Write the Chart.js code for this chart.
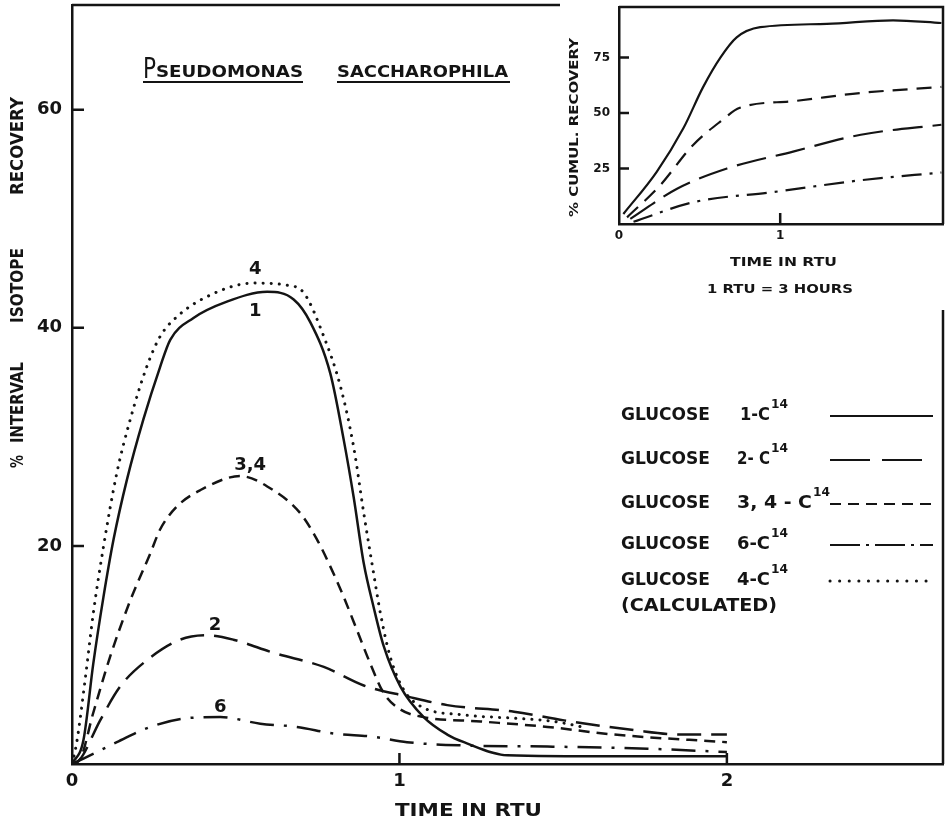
<!DOCTYPE html>
<html>
<head>
<meta charset="utf-8">
<script src="https://cdn.jsdelivr.net/npm/chart.js@4.4.1/dist/chart.umd.min.js"></script>
<style>
  body { margin: 0; background: #fff; }
  #wrap { position: relative; width: 945px; height: 823px; }
  #main { position: absolute; left: 0; top: 0; }
  #inset { position: absolute; left: 560px; top: 0; background: #fff; }
</style>
</head>
<body>
<div id="wrap">
  <canvas id="main" width="945" height="823"></canvas>
  <canvas id="inset" width="385" height="310"></canvas>
</div>
<script>
// ---- main chart: % interval isotope recovery vs time (RTU)
const xTicks = [0, 1, 2];
const yTicks = [20, 40, 60];

const g1X = [0, 0.035, 0.065, 0.096, 0.127, 0.168, 0.218, 0.269, 0.30, 0.371, 0.473, 0.596, 0.677, 0.728, 0.789, 0.83, 0.86, 0.891, 0.921, 0.952, 1.003, 1.074, 1.146, 1.197, 1.33, 1.655, 2.0];
const g1Y = [0, 2.2, 9.2, 15.3, 20.6, 26.1, 31.6, 36.4, 38.9, 40.9, 42.4, 43.3, 42.6, 40.5, 35.8, 29.7, 24.5, 18.4, 14.4, 10.8, 7.1, 4.3, 2.7, 2.0, 0.8, 0.7, 0.7];

const g2X = [0, 0.024, 0.086, 0.147, 0.228, 0.33, 0.412, 0.493, 0.615, 0.769, 0.891, 1.023, 1.146, 1.35, 1.503, 1.717, 1.86, 2.0];
const g2Y = [0, 0.4, 4.0, 7.1, 9.5, 11.4, 11.8, 11.4, 10.2, 8.9, 7.2, 6.2, 5.4, 4.8, 4.0, 3.1, 2.7, 2.7];

const g34X = [0, 0.024, 0.065, 0.116, 0.178, 0.239, 0.269, 0.32, 0.391, 0.514, 0.615, 0.697, 0.748, 0.789, 0.83, 0.87, 0.911, 0.952, 1.003, 1.074, 1.248, 1.452, 1.655, 2.0];
const g34Y = [0, 0.4, 4.7, 9.8, 15.0, 19.3, 21.5, 23.6, 25.1, 26.4, 25.1, 23.0, 20.6, 18.1, 15.3, 12.3, 9.2, 6.5, 5.0, 4.3, 3.9, 3.4, 2.7, 2.0];

const g6X = [0, 0.035, 0.137, 0.239, 0.35, 0.453, 0.575, 0.687, 0.799, 0.921, 1.023, 1.197, 1.452, 1.758, 2.0];
const g6Y = [0, 0.5, 2.0, 3.4, 4.2, 4.3, 3.7, 3.4, 2.8, 2.5, 2.0, 1.7, 1.6, 1.4, 1.1];

// glucose 4-C14 (calculated)
const g4X = [0, 0.014, 0.04, 0.065, 0.096, 0.137, 0.178, 0.228, 0.269, 0.32, 0.422, 0.554, 0.657, 0.708, 0.769, 0.82, 0.86, 0.891, 0.921, 0.942, 0.972, 1.013, 1.064, 1.197, 1.35, 1.472, 1.574];
const g4Y = [0, 1.9, 7.7, 13.8, 19.9, 26.7, 31.6, 36.4, 39.2, 41.0, 43.0, 44.1, 43.9, 43.2, 39.2, 34.6, 29.1, 23.0, 17.5, 13.8, 9.8, 6.8, 5.3, 4.5, 4.2, 3.9, 3.3];

// curve numbers written next to the peaks
const tagText = ['4', '1', '3,4', '2', '6'];
const tagX = [0.56, 0.56, 0.544, 0.437, 0.453];
const tagY = [45.4, 41.5, 27.4, 12.75, 5.2];

const legendIsotopes = ['1-C', '2- C', '3, 4 - C', '6-C', '4-C'];

// ---- inset: % cumulative recovery
const insetXTicks = [0, 1];
const insetYTicks = [25, 50, 75];

const c1X = [0.027, 0.234, 0.40, 0.52, 0.63, 0.73, 0.876, 1.29, 1.70, 2.0];
const c1Y = [4.5, 23.5, 43.2, 61.4, 75, 84, 88.6, 90.1, 91.7, 90.5];
const c34X = [0.05, 0.255, 0.46, 0.63, 0.75, 1.08, 1.5, 2.0];
const c34Y = [3, 17.4, 35.6, 46.2, 52.3, 55.3, 59, 61.7];
const c2X = [0.07, 0.36, 0.67, 1.08, 1.5, 2.0];
const c2Y = [2.3, 15.9, 25, 32.6, 40.2, 44.7];
const c6X = [0.09, 0.46, 0.96, 1.5, 2.0];
const c6Y = [1, 9.8, 14.4, 19.7, 23.2];

const INK = '#141414';
const FONT = '"DejaVu Sans", sans-serif';

function pts(xs, ys) {
  return xs.map((x, i) => ({ x: x, y: ys[i] }));
}

// draw text squeezed/stretched to a given width
function fitText(ctx, str, x, y, w, size, weight, rot, base) {
  ctx.save();
  ctx.font = (weight || 'normal') + ' ' + size + 'px ' + FONT;
  const m = ctx.measureText(str).width;
  ctx.translate(x, y);
  if (rot) ctx.rotate(-Math.PI / 2);
  ctx.scale(w / m, 1);
  ctx.fillStyle = INK;
  ctx.textAlign = 'left';
  ctx.textBaseline = base || 'middle';
  ctx.fillText(str, 0, 0);
  ctx.restore();
}

function line(label, xs, ys, dash, width, cap) {
  return {
    label: label,
    data: pts(xs, ys),
    borderColor: INK,
    borderWidth: width || 2.5,
    borderDash: dash,
    borderCapStyle: cap || 'butt',
    pointRadius: 0,
    cubicInterpolationMode: 'monotone',
    fill: false
  };
}

// keep the plot area exactly where the layout padding puts it
function noPadY(s, w) { s.width = w; s.paddingTop = 0; s.paddingBottom = 0; }
function noPadX(s, h) { s.height = h; s.paddingLeft = 0; s.paddingRight = 0; }

const mainDecor = {
  id: 'mainDecor',
  afterDraw(chart) {
    const { ctx, chartArea: a } = chart;
    const x = chart.scales.x, y = chart.scales.y;
    ctx.save();
    ctx.strokeStyle = INK;
    ctx.lineWidth = 2.5;
    ctx.beginPath();
    ctx.moveTo(a.left, a.top);
    ctx.lineTo(a.right, a.top);
    ctx.lineTo(a.right, a.bottom);
    ctx.stroke();

    // inward tick marks
    ctx.beginPath();
    yTicks.forEach(v => {
      const py = y.getPixelForValue(v);
      ctx.moveTo(a.left, py);
      ctx.lineTo(a.left + 12, py);
    });
    xTicks.slice(1).forEach(v => {
      const px = x.getPixelForValue(v);
      ctx.moveTo(px, a.bottom);
      ctx.lineTo(px, a.bottom - 11);
    });
    ctx.stroke();

    // title
    fitText(ctx, 'P', 143, 78, 13, 29, 'normal', false, 'alphabetic');
    fitText(ctx, 'SEUDOMONAS', 156, 77, 147, 16, 'bold', false, 'alphabetic');
    fitText(ctx, 'SACCHAROPHILA', 337, 77, 171, 16, 'bold', false, 'alphabetic');
    ctx.lineWidth = 2.2;
    ctx.beginPath();
    ctx.moveTo(143, 82); ctx.lineTo(303, 82);
    ctx.moveTo(337, 82); ctx.lineTo(510, 82);
    ctx.stroke();

    // axis titles
    fitText(ctx, 'RECOVERY', 18, 195, 98, 18, 'bold', true);
    fitText(ctx, 'ISOTOPE', 18, 323, 75, 18, 'bold', true);
    fitText(ctx, 'INTERVAL', 18, 443, 81, 18, 'bold', true);
    fitText(ctx, '%', 18, 468, 13, 18, 'bold', true);
    fitText(ctx, 'TIME IN RTU', 395, 811, 147, 18, 'bold');

    // curve numbers
    ctx.font = 'bold 18px ' + FONT;
    ctx.fillStyle = INK;
    ctx.textAlign = 'center';
    ctx.textBaseline = 'middle';
    tagText.forEach((t, i) => {
      ctx.fillText(t, x.getPixelForValue(tagX[i]), y.getPixelForValue(tagY[i]));
    });

    // legend
    const rows = [416, 460, 504, 545, 581];
    const isoW = [30, 33, 75, 33, 33];
    const dashes = [[], [40, 12], [11, 7], [30, 6, 3, 6], [0.1, 9.5]];
    rows.forEach((ry, i) => {
      fitText(ctx, 'GLUCOSE', 621, ry, 89, 17, 'bold');
      const ix = i === 0 ? 740 : 737;
      fitText(ctx, legendIsotopes[i], ix, ry, isoW[i], 17, 'bold');
      fitText(ctx, '14', ix + isoW[i] + 1, ry - 11, 17, 13, 'bold');
      ctx.setLineDash(dashes[i]);
      ctx.lineCap = i === 4 ? 'round' : 'butt';
      ctx.lineWidth = i === 4 ? 3 : 2;
      ctx.beginPath();
      ctx.moveTo(830, ry);
      ctx.lineTo(933, ry);
      ctx.stroke();
    });
    ctx.setLineDash([]);
    fitText(ctx, '(CALCULATED)', 621, 607, 156, 17, 'bold');
    ctx.restore();
  }
};

new Chart(document.getElementById('main'), {
  type: 'line',
  data: {
    datasets: [
      line('Glucose 1-C14', g1X, g1Y, []),
      line('Glucose 2-C14', g2X, g2Y, [24, 10]),
      line('Glucose 3,4-C14', g34X, g34Y, [11, 7]),
      line('Glucose 6-C14', g6X, g6Y, [24, 10, 3, 10]),
      line('Glucose 4-C14 (calculated)', g4X, g4Y, [0.1, 8], 3, 'round')
    ]
  },
  options: {
    responsive: false,
    animation: false,
    layout: { padding: { left: 0, right: 2, top: 5, bottom: 0 } },
    plugins: { legend: { display: false }, tooltip: { enabled: false } },
    scales: {
      x: {
        type: 'linear', min: 0, max: 2.66,
        border: { color: INK, width: 2.5 },
        grid: { display: false, drawTicks: false },
        afterBuildTicks: s => { s.ticks = xTicks.map(v => ({ value: v })); },
        afterFit: s => noPadX(s, 59),
        ticks: { color: INK, padding: 7, font: { family: FONT, size: 18, weight: 'bold' } }
      },
      y: {
        type: 'linear', min: 0, max: 69.6,
        border: { color: INK, width: 2.5 },
        grid: { display: false, drawTicks: false },
        afterBuildTicks: s => { s.ticks = yTicks.map(v => ({ value: v })); },
        afterFit: s => noPadY(s, 72),
        ticks: { color: INK, padding: 10, font: { family: FONT, size: 18, weight: 'bold' } }
      }
    }
  },
  plugins: [mainDecor]
});

const insetDecor = {
  id: 'insetDecor',
  afterDraw(chart) {
    const { ctx, chartArea: a } = chart;
    const x = chart.scales.x, y = chart.scales.y;
    ctx.save();
    ctx.strokeStyle = INK;
    ctx.lineWidth = 2.5;
    ctx.beginPath();
    ctx.moveTo(a.left, a.top);
    ctx.lineTo(a.right, a.top);
    ctx.lineTo(a.right, a.bottom);
    ctx.stroke();
    ctx.beginPath();
    insetYTicks.forEach(v => {
      const py = y.getPixelForValue(v);
      ctx.moveTo(a.left, py);
      ctx.lineTo(a.left + 10, py);
    });
    insetXTicks.slice(1).forEach(v => {
      const px = x.getPixelForValue(v);
      ctx.moveTo(px, a.bottom);
      ctx.lineTo(px, a.bottom - 11);
    });
    ctx.stroke();
    fitText(ctx, '% CUMUL. RECOVERY', 15, 217, 179, 13, 'bold', true);
    fitText(ctx, 'TIME IN RTU', 170, 263, 107, 13, 'bold');
    fitText(ctx, '1 RTU = 3 HOURS', 147, 290, 146, 13, 'bold');
    ctx.restore();
  }
};

new Chart(document.getElementById('inset'), {
  type: 'line',
  data: {
    datasets: [
      line('Glucose 1-C14', c1X, c1Y, [], 2.2),
      line('Glucose 3,4-C14', c34X, c34Y, [15, 9], 2.2),
      line('Glucose 2-C14', c2X, c2Y, [30, 10], 2.2),
      line('Glucose 6-C14', c6X, c6Y, [20, 8, 3, 8], 2.2)
    ]
  },
  options: {
    responsive: false,
    animation: false,
    layout: { padding: { left: 0, right: 2, top: 7, bottom: 0 } },
    plugins: { legend: { display: false }, tooltip: { enabled: false } },
    scales: {
      x: {
        type: 'linear', min: 0, max: 2.01,
        border: { color: INK, width: 2.5 },
        grid: { display: false, drawTicks: false },
        afterBuildTicks: s => { s.ticks = insetXTicks.map(v => ({ value: v })); },
        afterFit: s => noPadX(s, 86),
        ticks: { color: INK, padding: 5, font: { family: FONT, size: 12, weight: 'bold' } }
      },
      y: {
        type: 'linear', min: 0, max: 97.7,
        border: { color: INK, width: 2.5 },
        grid: { display: false, drawTicks: false },
        afterBuildTicks: s => { s.ticks = insetYTicks.map(v => ({ value: v })); },
        afterFit: s => noPadY(s, 59),
        ticks: { color: INK, padding: 9, font: { family: FONT, size: 12, weight: 'bold' } }
      }
    }
  },
  plugins: [insetDecor]
});
</script>
</body>
</html>
